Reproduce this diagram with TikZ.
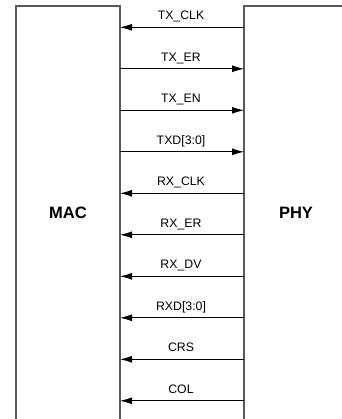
\documentclass[tikz,border=0pt]{standalone}
\usepackage{fontspec}
\setmainfont{Liberation Sans}
\usetikzlibrary{arrows.meta}
\begin{document}
\begin{tikzpicture}[x=1pt,y=-1pt,
  boxline/.style={draw=black!65,line width=1.3pt},
  sig/.style={draw=black,line width=0.9pt,-{Latex[length=12pt,width=7pt]}},
  siglabel/.style={anchor=base,inner sep=0pt,font=\fontsize{12.3}{14}\selectfont},
  blockname/.style={inner sep=0pt,font=\fontsize{16.5}{19}\selectfont\bfseries}]
\useasboundingbox (0,0) rectangle (341,419);
\draw[boxline] (16,420) -- (16,6) -- (120,6) -- (120,420);
\draw[boxline] (342,6) -- (244,6) -- (244,420);
\node[blockname] (mac) at (68,213) {MAC};
\node[blockname] (phy) at (296,213) {PHY};
\foreach \i/\name/\dir in {0/TX\_CLK/l,1/TX\_ER/r,2/TX\_EN/r,3/TXD[3:0]/r,4/RX\_CLK/l,5/RX\_ER/l,6/RX\_DV/l,7/RXD[3:0]/l,8/CRS/l,9/COL/l}{
  \pgfmathsetmacro{\yy}{27.3+41.5*\i}
  \coordinate (L\i) at (120,\yy);
  \coordinate (R\i) at (244,\yy);
  \node[siglabel] (lab\i) at (181,\yy-7.5) {\name};
  \if\dir l
    \draw[sig] (R\i) -- (L\i);
  \else
    \draw[sig] (L\i) -- (R\i);
  \fi
}
\end{tikzpicture}
\end{document}
